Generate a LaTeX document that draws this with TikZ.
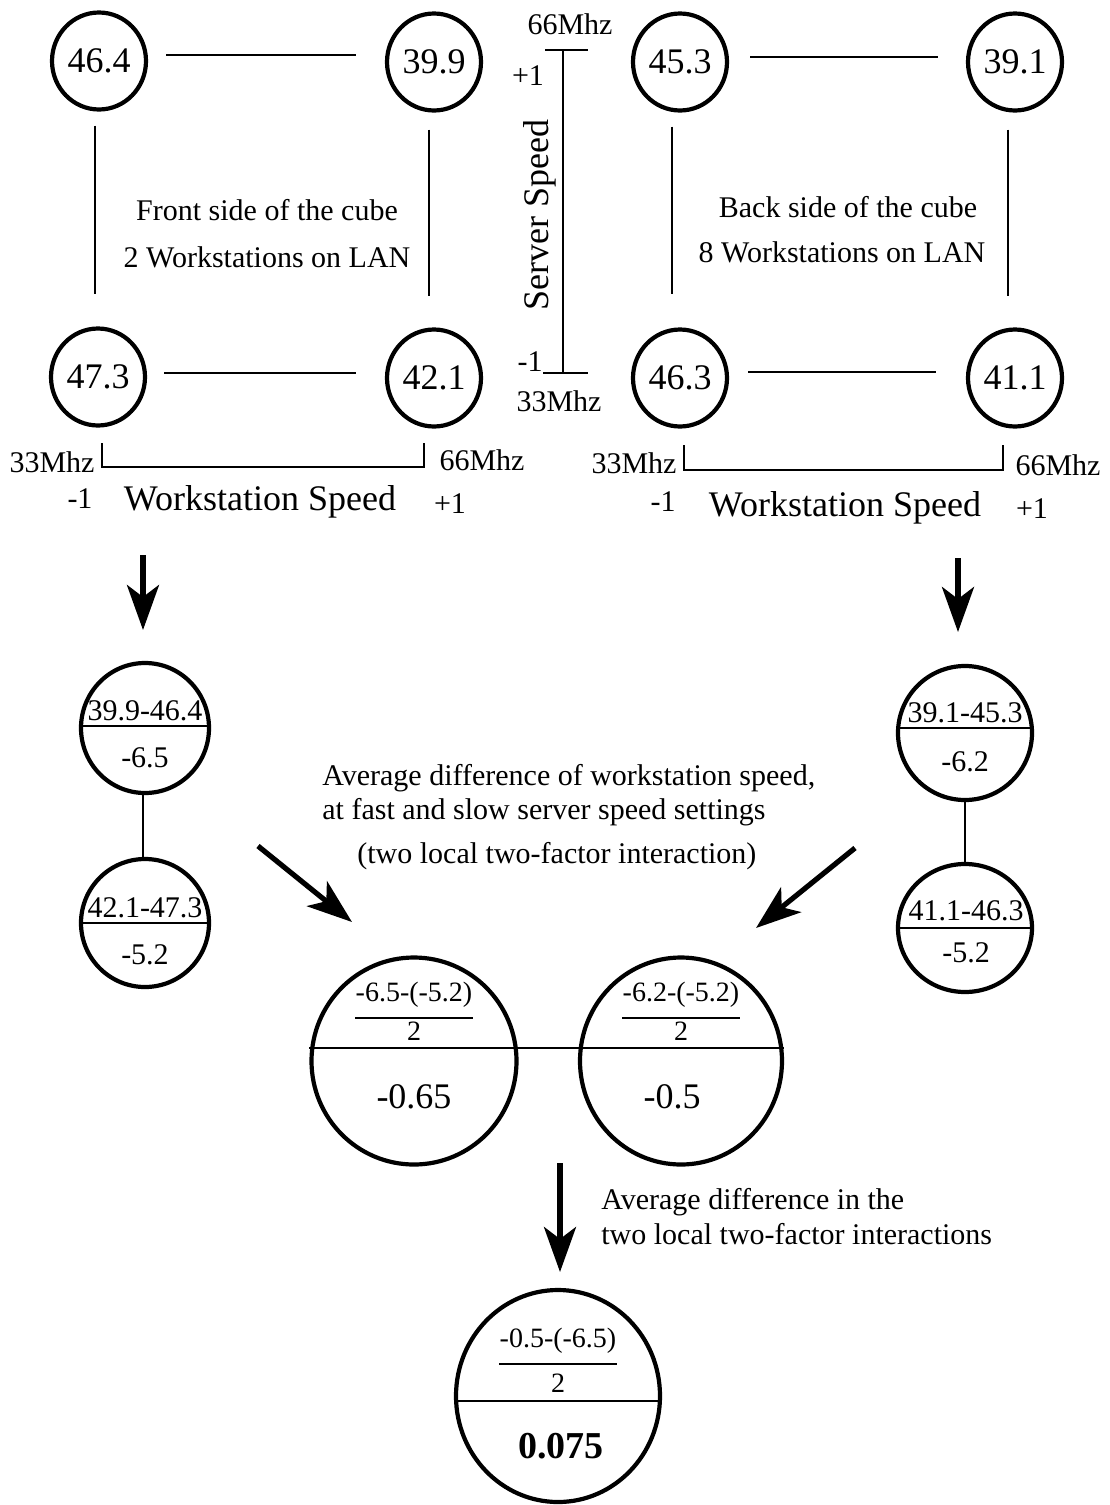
\documentclass[tikz,border=0pt]{standalone}
\usepackage{fontspec}
\setmainfont{Liberation Serif}
\usetikzlibrary{shapes.geometric,arrows.meta}

\tikzset{
  vert/.style={ellipse, draw, line width=2.1pt, inner sep=0pt,
    minimum width=47pt, minimum height=48.5pt, font=\fontsize{18}{21}\selectfont},
  split/.style={ellipse, draw, line width=2.1pt, inner sep=0pt},
  edge/.style={line width=1.1pt},
  flow/.style={line width=2.6pt, -{Stealth[length=22.5pt,width=16pt,inset=6pt]}},
  txt/.style={inner sep=0pt, font=\fontsize{15}{18}\selectfont},
  axislbl/.style={inner sep=0pt, font=\fontsize{18}{21}\selectfont},
  num/.style={inner sep=0pt, font=\fontsize{15}{18}\selectfont},
  frac/.style={inner sep=0pt, font=\fontsize{14}{17}\selectfont},
  res/.style={inner sep=0pt, font=\fontsize{18}{21}\selectfont},
}

\begin{document}
\begin{tikzpicture}[x=0.5pt,y=-0.5pt]
\useasboundingbox (0,0) rectangle (1109,1505);

% ---- front side of the cube ----
\node[vert] (a1) at (99,61)  {46.4};
\node[vert] (a2) at (434,62) {39.9};
\node[vert] (a3) at (98,377) {47.3};
\node[vert] (a4) at (434,378) {42.1};
\draw[edge, shorten <=9pt, shorten >=14.5pt] ([yshift=3pt]a1.east) -- ([yshift=3.5pt]a2.west);
\draw[edge, shorten <=8.5pt, shorten >=14.5pt] ([yshift=2pt]a3.east) -- ([yshift=2.5pt]a4.west);
\draw[edge, shorten <=7pt, shorten >=16pt] ([xshift=-2pt]a1.south) -- ([xshift=-1.5pt]a3.north);
\draw[edge, shorten <=8.5pt, shorten >=15.5pt] ([xshift=-2.5pt]a2.south) -- ([xshift=-2.5pt]a4.north);
\node[txt] (f1) at (267,210) {Front side of the cube};
\node[txt] (f2) at (267,257) {2 Workstations on LAN};

% workstation speed axis, front
\draw[edge] (102,443) -- (102,467) -- (424,467) -- (424,443);
\node[txt] (fs1) at (52,462) {33Mhz};
\node[txt] (fs2) at (482,460) {66Mhz};
\node[txt] (fm) at (80,499) {-1};
\node[axislbl] (fw) at (260,502) {Workstation Speed};
\node[txt] (fp) at (450,504) {+1};

% ---- server speed axis ----
\draw[edge] (563,50) -- (563,373);
\draw[edge] (545,50) -- (588,50);
\draw[edge] (543,373) -- (588,373);
\node[txt] (s66) at (570,24) {66Mhz};
\node[txt] (sp) at (528,76) {+1};
\node[axislbl, rotate=90] (ss) at (540,215) {Server Speed};
\node[txt] (sm) at (530,362) {-1};
\node[txt] (s33) at (559,401) {33Mhz};

% ---- back side of the cube ----
\node[vert] (b1) at (680,62)  {45.3};
\node[vert] (b2) at (1015,62) {39.1};
\node[vert] (b3) at (680,378) {46.3};
\node[vert] (b4) at (1015,378) {41.1};
\draw[edge, shorten <=10.5pt, shorten >=14pt] ([yshift=2.5pt]b1.east) -- ([yshift=2.5pt]b2.west);
\draw[edge, shorten <=9.5pt, shorten >=15pt] ([yshift=3pt]b3.east) -- ([yshift=3pt]b4.west);
\draw[edge, shorten <=7pt, shorten >=16.5pt] ([xshift=-4pt]b1.south) -- ([xshift=-4pt]b3.north);
\draw[edge, shorten <=8.5pt, shorten >=15.5pt] ([xshift=-3.5pt]b2.south) -- ([xshift=-3.5pt]b4.north);
\node[txt] (k1) at (848,207) {Back side of the cube};
\node[txt] (k2) at (842,252) {8 Workstations on LAN};

% workstation speed axis, back
\draw[edge] (684,445) -- (684,470) -- (1003,470) -- (1003,445);
\node[txt] (ks1) at (634,463) {33Mhz};
\node[txt] (ks2) at (1058,465) {66Mhz};
\node[txt] (km) at (663,502) {-1};
\node[axislbl] (kw) at (845,508) {Workstation Speed};
\node[txt] (kp) at (1032,509) {+1};

% ---- differences at each server speed ----
\coordinate (la0) at (143,555);
\coordinate (la1) at (143,630);
\draw[flow] (la0) -- (la1);
\coordinate (ra0) at (958,558);
\coordinate (ra1) at (958,632);
\draw[flow] (ra0) -- (ra1);

\node[split, minimum width=64pt, minimum height=65pt] (c1) at (145,728) {};
\draw[edge] ([yshift=1pt]c1.west) -- ([yshift=1pt]c1.east);
\node[num] (c1t) at (145,711) {39.9-46.4};
\node[num] (c1b) at (145,758) {-6.5};

\node[split, minimum width=64pt, minimum height=64pt] (c2) at (145,923) {};
\draw[edge] (c2.west) -- (c2.east);
\node[num] (c2t) at (145,908) {42.1-47.3};
\node[num] (c2b) at (145,955) {-5.2};
\draw[edge] ([xshift=-1pt]c1.south) -- ([xshift=-1pt]c2.north);

\node[split, minimum width=67pt, minimum height=67pt] (d1) at (965,733) {};
\draw[edge] ([yshift=2.5pt]d1.west) -- ([yshift=2.5pt]d1.east);
\node[num] (d1t) at (965,713) {39.1-45.3};
\node[num] (d1b) at (965,762) {-6.2};

\node[split, minimum width=67pt, minimum height=64pt] (d2) at (965,928) {};
\draw[edge] (d2.west) -- (d2.east);
\node[num] (d2t) at (966,911) {41.1-46.3};
\node[num] (d2b) at (966,953) {-5.2};
\draw[edge] (d1.south) -- (d2.north);

% ---- caption in the middle ----
\node[txt, anchor=west] (m1) at (322,778) {Average difference of workstation speed,};
\node[txt, anchor=west] (m2) at (322,812) {at fast and slow server speed settings};
\node[txt, anchor=west] (m3) at (357,856) {(two local two-factor interaction)};

\coordinate (dl0) at (258,846);
\coordinate (dl1) at (352,922);
\draw[flow] (dl0) -- (dl1);
\coordinate (dr0) at (855,848);
\coordinate (dr1) at (756,928);
\draw[flow] (dr0) -- (dr1);

% ---- averaged interactions ----
\node[split, minimum width=102.5pt, minimum height=103.5pt] (e1) at (414,1061) {};
\node[split, minimum width=101pt, minimum height=103.5pt] (e2) at (681,1061) {};
\draw[edge] ([yshift=6.5pt]e1.west) -- ([yshift=6.5pt]e1.east);
\draw[edge] ([yshift=6.5pt]e2.west) -- ([yshift=6.5pt]e2.east);
\draw[edge] ([yshift=6.5pt]e1.east) -- ([yshift=6.5pt]e2.west);

\node[frac] (e1n) at (414,995) {-6.5-(-5.2)};
\draw[edge] ([yshift=-5pt]e1n.south west) -- ([yshift=-5pt]e1n.south east);
\node[frac] (e1d) at (414,1031) {2};
\node[res] (e1r) at (414,1097) {-0.65};

\node[frac] (e2n) at (681,995) {-6.2-(-5.2)};
\draw[edge] ([yshift=-5pt]e2n.south west) -- ([yshift=-5pt]e2n.south east);
\node[frac] (e2d) at (681,1031) {2};
\node[res] (e2r) at (672,1097) {-0.5};

% ---- final average ----
\coordinate (ba0) at (560,1163);
\coordinate (ba1) at (560,1272);
\draw[flow] (ba0) -- (ba1);
\node[txt, anchor=west] (g1) at (601,1202) {Average difference in the};
\node[txt, anchor=west] (g2) at (601,1234) {two local two-factor interactions};

\node[split, minimum width=102pt, minimum height=106pt] (h) at (558,1396) {};
\draw[edge] ([yshift=-2.5pt]h.west) -- ([yshift=-2.5pt]h.east);
\node[frac] (hn) at (558,1341) {-0.5-(-6.5)};
\draw[edge] ([yshift=-5pt]hn.south west) -- ([yshift=-5pt]hn.south east);
\node[frac] (hd) at (558,1383) {2};
\node[res, font=\fontsize{19}{22}\selectfont\bfseries] (hr) at (561,1446) {0.075};

\end{tikzpicture}
\end{document}
